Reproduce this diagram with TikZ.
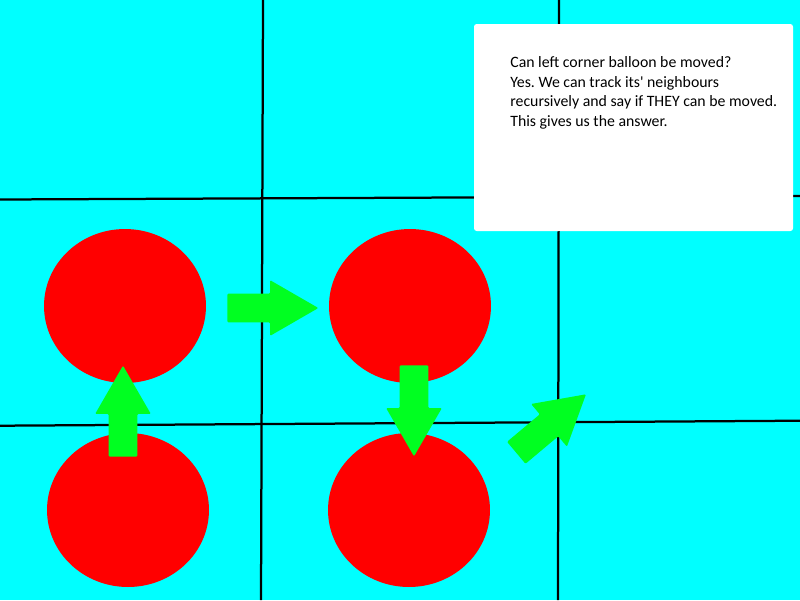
\documentclass[tikz,border=0pt]{standalone}
\usepackage{fontspec}
\setmainfont{Carlito}
\usetikzlibrary{positioning, shapes.geometric, shapes.arrows}
\definecolor{sky}{HTML}{00FFFF}
\definecolor{balloon}{HTML}{FF0000}
\definecolor{push}{HTML}{00FF21}
\definecolor{gridline}{HTML}{000000}
\tikzset{
  ball/.style={ellipse, fill=balloon, minimum width=3.24cm, minimum height=3.08cm, inner sep=0pt},
  pusharrow/.style={single arrow, fill=push, anchor=tail, inner xsep=0pt, inner ysep=0.28cm,
    single arrow head extend=0.27cm, single arrow tip angle=60, minimum height=1.82cm,
    rounded corners=0.6pt},
  gridln/.style={draw=gridline, line width=0.45mm},
  notebox/.style={fill=white, rounded corners=1.5pt},
  notetxt/.style={font=\fontsize{9}{11.2}\selectfont\frenchspacing, align=left, inner sep=0pt, anchor=north west},
}

\begin{document}
\begin{tikzpicture}[x=0.02cm, y=-0.02cm]
  \fill[sky] (0,0) rectangle (800,600);
  \useasboundingbox (0,0) rectangle (800,600);
  % grid of the sky
  \draw[gridln] (0,199.5) -- (800,196);
  \draw[gridln] (0,425.7) -- (800,420.7);
  \draw[gridln] (263,0) -- (261,600);
  \draw[gridln] (559,0) -- (558,600);
  % question box
  \fill[notebox] (474,24) rectangle (793,231);
  \node[notetxt] (note) at (510,56) {Can left corner balloon be moved?\\
    Yes. We can track its\textquotesingle{} neighbours\\
    recursively and say if THEY can be moved.\\
    This gives us the answer.};
  % balloons
  \node[ball] (b1) at (125,306) {};
  \node[ball] (b2) at (410,306) {};
  \node[ball] (b3) at (128,510) {};
  \node[ball] (b4) at (409,510) {};
  % moves
  \node[pusharrow, rotate=90] (up) at (123,457) {};
  \node[pusharrow] (right) at (227,308) {};
  \node[pusharrow, rotate=-90] (down) at (414,365) {};
  \node[pusharrow, rotate=40] (diag) at (516,453) {};
\end{tikzpicture}
\end{document}
